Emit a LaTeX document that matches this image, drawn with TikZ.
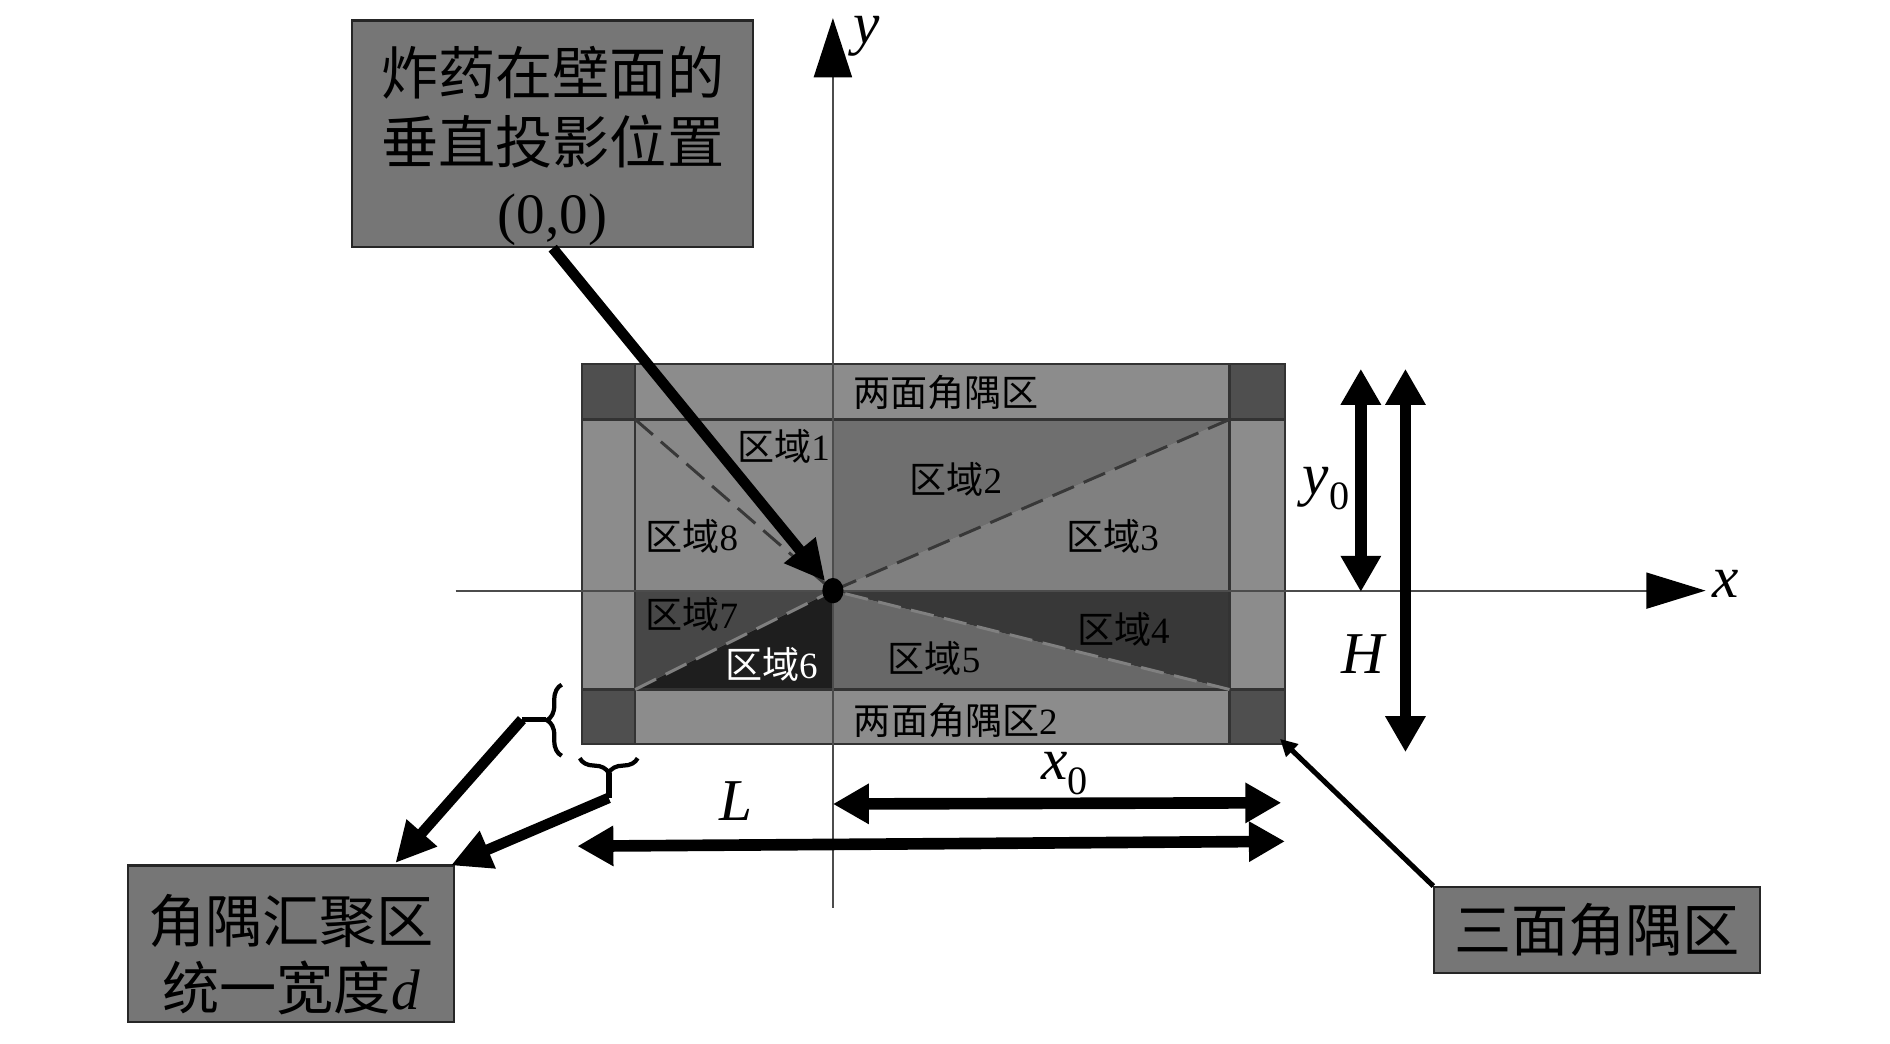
\documentclass[tikz,border=0pt]{standalone}
\usepackage{fontspec}
\setmainfont{Liberation Serif}
\newfontfamily\cjk{Noto Sans CJK SC}
\usetikzlibrary{arrows.meta,decorations.pathreplacing,shapes.geometric}
\definecolor{band}{HTML}{8C8C8C}
\definecolor{corner}{HTML}{4F4F4F}
\definecolor{rAH}{HTML}{888888}
\definecolor{rB}{HTML}{6F6F6F}
\definecolor{rC}{HTML}{808080}
\definecolor{rD}{HTML}{383838}
\definecolor{rE}{HTML}{686868}
\definecolor{rF}{HTML}{1E1E1E}
\definecolor{rG}{HTML}{474747}
\definecolor{boxfill}{HTML}{767676}
\newcommand\rlab[1]{{\cjk 区域}#1}
\begin{document}
\begin{tikzpicture}[x=0.02cm,y=-0.02cm,
  gridln/.style={draw=black!80, line width=1pt},
  dashln/.style={draw=black!78, line width=1.4pt, dash pattern=on 11pt off 5pt},
  axisln/.style={draw=black!70, line width=0.9pt},
  lbl/.style={font=\fontsize{17.5}{20}\selectfont, inner sep=0pt},
  mathlbl/.style={font=\fontsize{28}{30}\selectfont\itshape, inner sep=0pt},
  callout/.style={draw=black!85, line width=1pt, fill=boxfill, inner sep=0pt},
  calltext/.style={inner sep=0pt, align=center},
  dimarrow/.style={line width=5.5pt, {Triangle[length=17pt,width=18pt]}-{Triangle[length=17pt,width=18pt]}},
  bigarrow/.style={line width=5pt, -{Triangle[length=19pt,width=18pt]}},
  thinarrow/.style={line width=2.4pt, -{Triangle[length=8pt,width=8pt]}},
  bracedec/.style={decorate, decoration={brace, amplitude=7pt}, line width=2pt}
]
\useasboundingbox (0,0) rectangle (1568,866);
% bands and corners
\fill[band] (483,302) rectangle (1066,617);
\fill[corner] (483,302) rectangle (527,348);
\fill[corner] (1020,302) rectangle (1066,348);
\fill[corner] (483,572) rectangle (527,617);
\fill[corner] (1020,572) rectangle (1066,617);
% regions
\fill[rAH] (527,348) -- (691,348) -- (691,490) -- (527,490) -- cycle;
\fill[rB] (691,348) -- (1020,348) -- (691,490) -- cycle;
\fill[rC] (1020,348) -- (1020,490) -- (691,490) -- cycle;
\fill[rD] (691,490) -- (1020,490) -- (1020,572) -- cycle;
\fill[rE] (691,490) -- (1020,572) -- (691,572) -- cycle;
\fill[rF] (691,490) -- (691,572) -- (527,572) -- cycle;
\fill[rG] (527,490) -- (691,490) -- (527,572) -- cycle;
% grid
\draw[gridln] (483,302) rectangle (1066,617);
\draw[gridln] (527,302) -- (527,617);
\draw[gridln] (1020,302) -- (1020,617);
\draw[gridln] (483,348) -- (1066,348);
\draw[gridln] (483,572) -- (1066,572);
% dashed diagonals
\draw[dashln] (527,348) -- (691,490);
\draw[dashln] (1020,348) -- (691,490);
\draw[dashln, draw=black!50] (1020,572) -- (691,490);
\draw[dashln, draw=black!50] (527,572) -- (691,490);
% axes
\coordinate (xs) at (378,490);
\coordinate (xe) at (1415,490);
\coordinate (ys) at (691,753);
\coordinate (ye) at (691,15);
\draw[axisln, -{Triangle[length=28pt,width=17pt,color=black]}] (xs) -- (xe);
\draw[axisln, -{Triangle[length=28pt,width=18pt,color=black]}] (ys) -- (ye);
\node[mathlbl] (xlab) at (1432,484) {x};
\node[mathlbl] (ylab) at (719,30) {y};
% origin
\node (O) [ellipse, fill=black, inner sep=0pt, minimum width=10pt, minimum height=12pt] at (691,490) {};
% region labels
\node[lbl] (top) at (785,326) {\cjk 两面角隅区};
\node[lbl] (bot) at (793,598) {{\cjk 两面角隅区}2};
\node[lbl] (r1) at (650,370) {\rlab{1}};
\node[lbl] (r2) at (793,398) {\rlab{2}};
\node[lbl] (r3) at (923,445) {\rlab{3}};
\node[lbl] (r4) at (932,522) {\rlab{4}};
\node[lbl] (r5) at (775,546) {\rlab{5}};
\node[lbl, text=white] (r6) at (640,551) {\rlab{6}};
\node[lbl] (r7) at (574,510) {\rlab{7}};
\node[lbl] (r8) at (574,445) {\rlab{8}};
% callout boxes
\node[callout, minimum width=6.66cm, minimum height=3.76cm] (tbox) at (458.5,111) {};
\node[calltext, font=\fontsize{27}{33}\selectfont] (ttext) at (458.5,121)
  {{\cjk 炸药在壁面的}\\{\cjk 垂直投影位置}\\(0,0)};
\node[callout, minimum width=5.42cm, minimum height=2.6cm] (lbox) at (241.5,783) {};
\node[calltext, font=\fontsize{27}{32}\selectfont] (ltext) at (241.5,792)
  {{\cjk 角隅汇聚区}\\{\cjk 统一宽度}\textit{d}};
\node[callout, minimum width=5.4cm, minimum height=1.42cm] (rbox) at (1325,771.5) {};
\node[calltext, font=\fontsize{27}{32}\selectfont] (rtext) at (1325,771.5) {\cjk 三面角隅区};
% callout arrows
\draw[bigarrow] (tbox.south) -- (O);
\coordinate (cornerpt) at (1062,613);
\draw[thinarrow] (rbox.north west) -- (cornerpt);
% braces
\draw[bracedec] (466,627) -- (466,568);
\draw[bracedec] (529,629) -- (481,629);
\coordinate (b1) at (453,597);
\coordinate (k1) at (433,597);
\coordinate (t1) at (328,716);
\coordinate (b2) at (505,641);
\coordinate (k2) at (505,662);
\coordinate (t2) at (374,718);
\draw[line width=2.5pt] (b1) -- (k1);
\draw[bigarrow, line join=round] (k1) -- (t1);
\draw[line width=3pt] (b2) -- (k2);
\draw[bigarrow] (k2) -- (t2);
% dimension arrows
\coordinate (y0t) at (1129,306);
\coordinate (y0b) at (1129,491);
\coordinate (Ht) at (1166,306);
\coordinate (Hb) at (1166,624);
\coordinate (x0l) at (691,667);
\coordinate (x0r) at (1063,666);
\coordinate (Ll) at (479,702);
\coordinate (Lr) at (1066,698);
\draw[dimarrow] (y0t) -- (y0b);
\draw[dimarrow] (Ht) -- (Hb);
\draw[dimarrow] (x0l) -- (x0r);
\draw[dimarrow] (Ll) -- (Lr);
\node[mathlbl] (y0lab) at (1100,405) {y\raisebox{-7pt}{\upshape\fontsize{19}{19}\selectfont 0}};
\node[mathlbl] (Hlab) at (1131,543) {H};
\node[mathlbl] (x0lab) at (883,642) {x\raisebox{-7pt}{\upshape\fontsize{19}{19}\selectfont 0}};
\node[mathlbl] (Llab) at (611,665) {L};
\end{tikzpicture}
\end{document}
